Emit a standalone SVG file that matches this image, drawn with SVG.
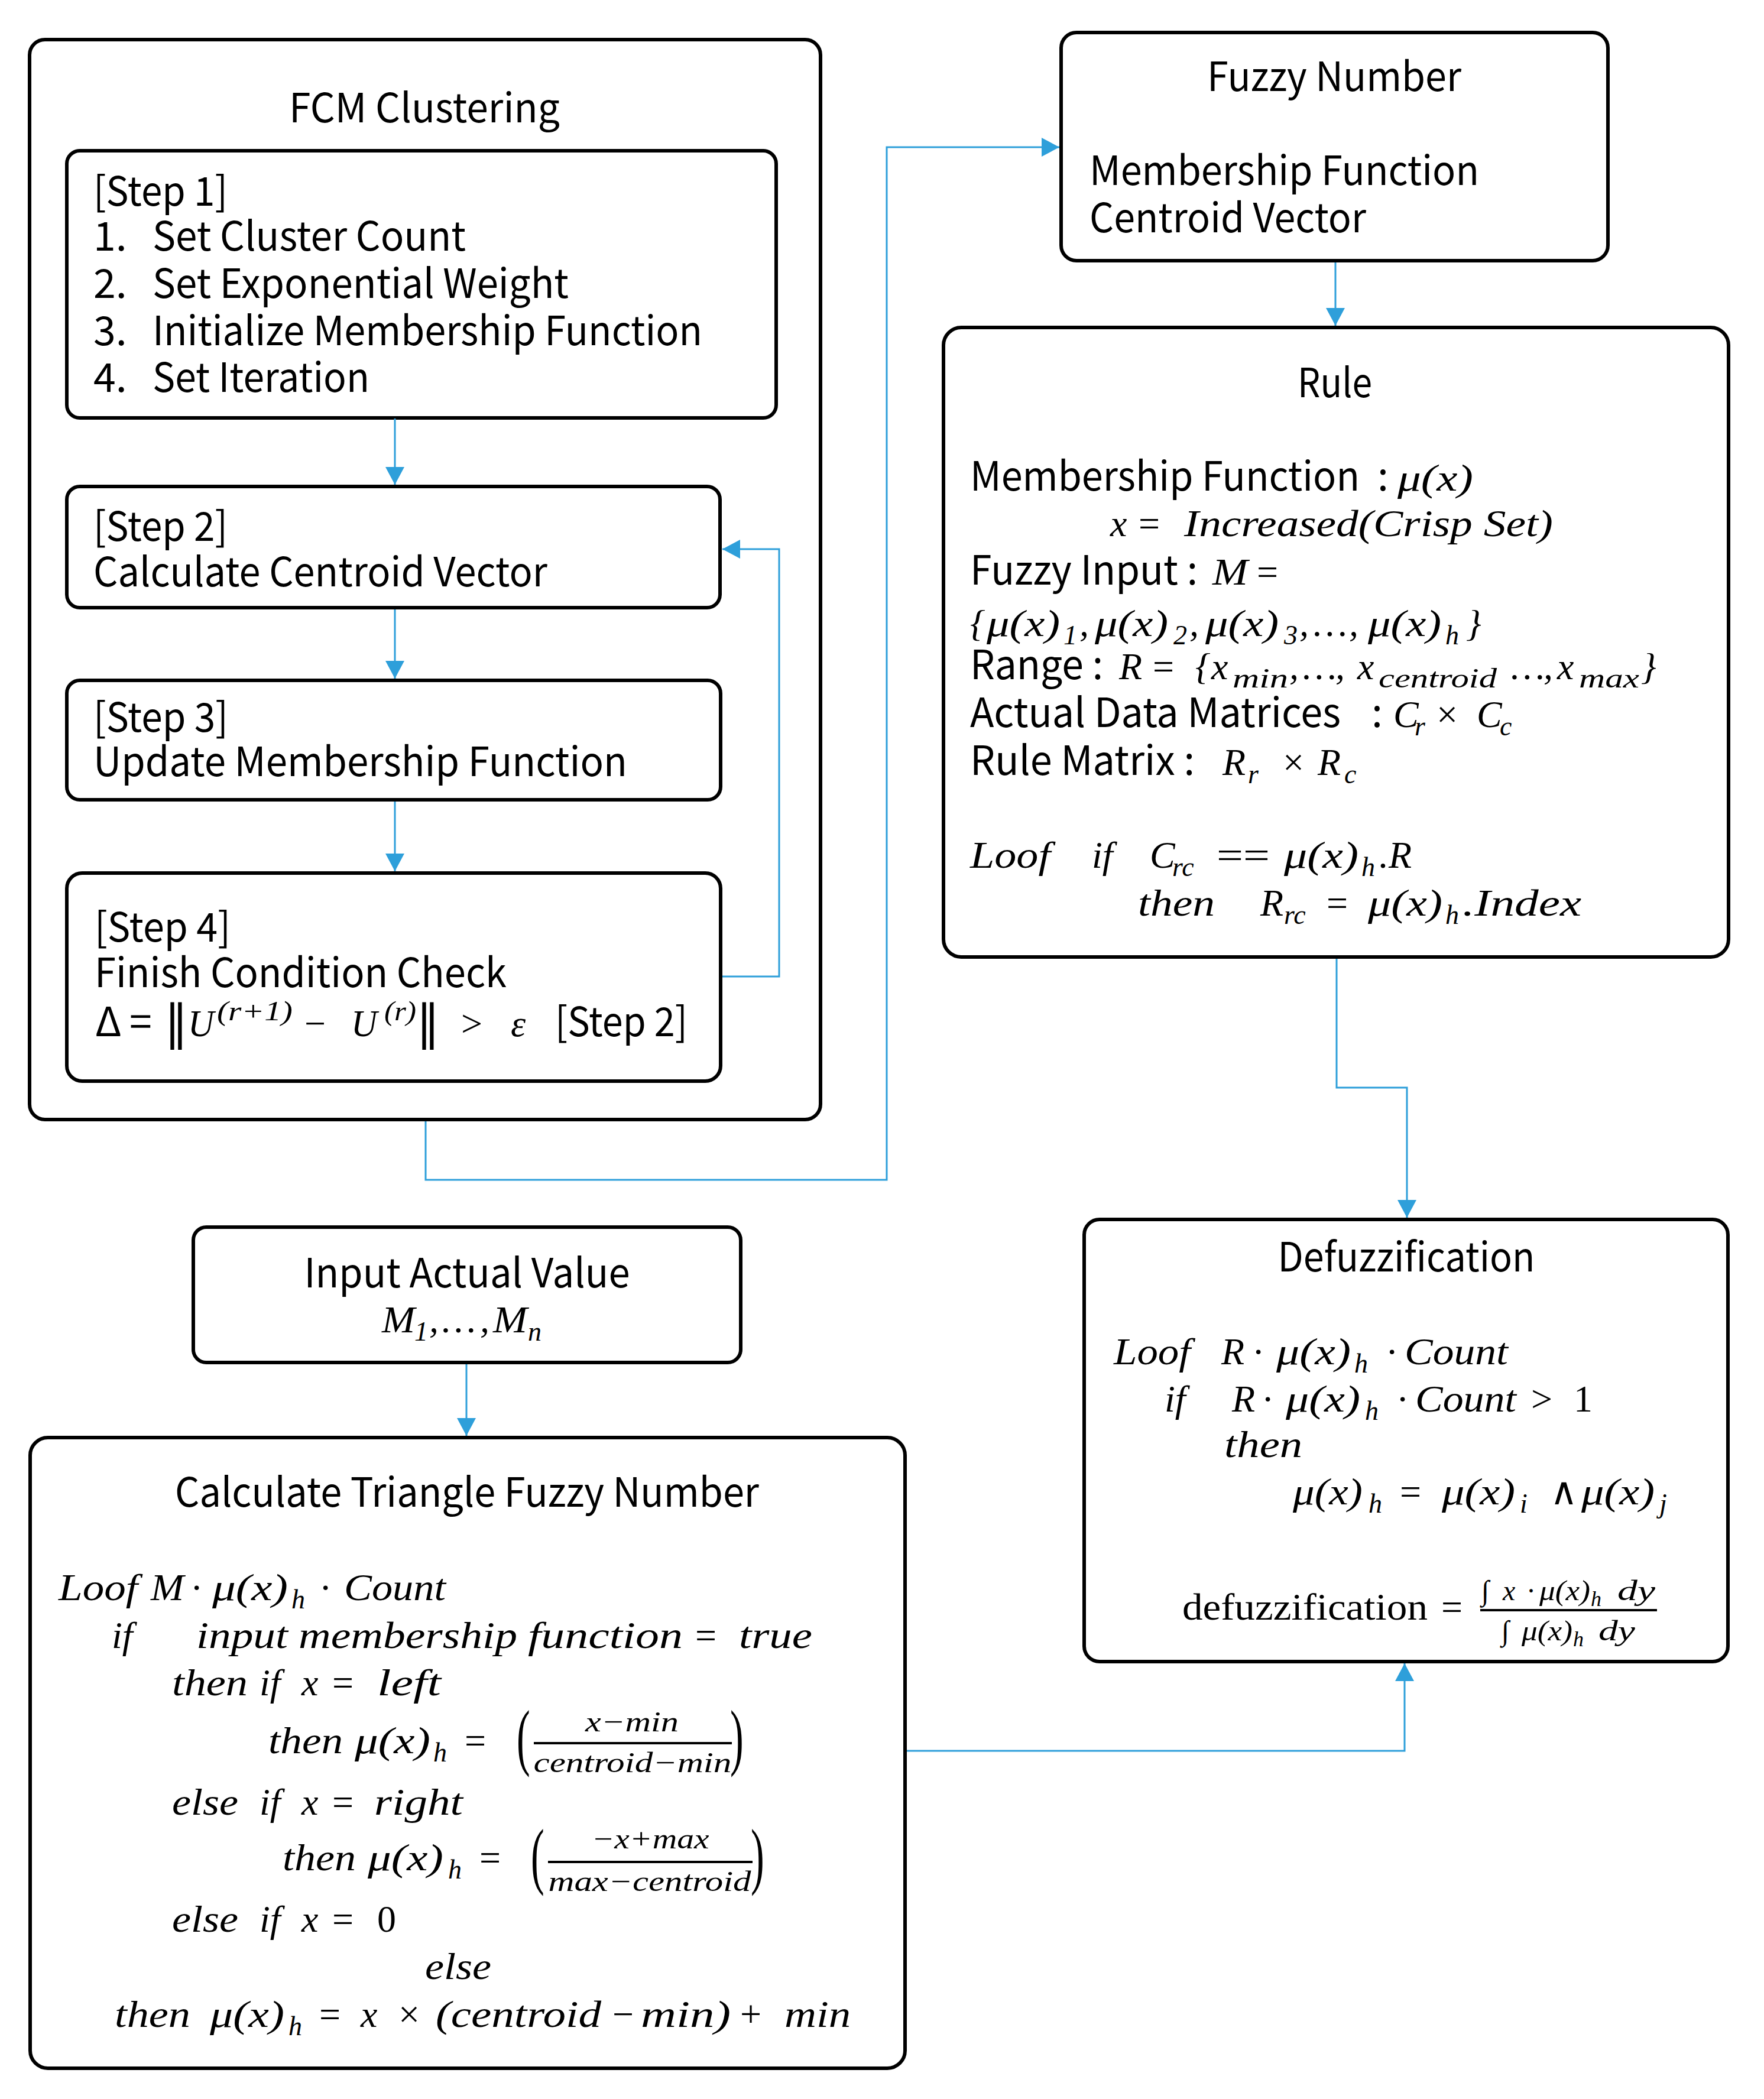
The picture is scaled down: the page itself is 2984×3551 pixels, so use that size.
<svg xmlns="http://www.w3.org/2000/svg" width="2984" height="3551" viewBox="0 0 2984 3551">
<defs>
<style>
.b{fill:#fff;stroke:#000;stroke-width:6}
.s{font-family:"Noto Sans CJK KR","Noto Sans",sans-serif;font-size:68px;fill:#000}
.m{font-family:"Liberation Serif","DejaVu Serif",serif;font-style:italic;font-size:64px;fill:#000}
.u{font-style:normal}
.sb{font-size:46px}
.f{font-size:48px}
.fs{font-size:36px}
.c{fill:none;stroke:#2E9FDA;stroke-width:3}
.bar{stroke:#000;stroke-width:4}
.par{font-family:"Liberation Serif",serif;font-style:normal;font-size:124px;fill:#000}
.nb{font-family:"DejaVu Serif",serif;font-style:normal;font-size:80px;fill:#000}
</style>
<marker id="ah" markerUnits="userSpaceOnUse" markerWidth="32" markerHeight="32" viewBox="0 0 30 32" refX="30" refY="16" orient="auto"><path d="M0,0 L30,16 L0,32 z" fill="#2E9FDA"/></marker>
</defs>
<rect x="0" y="0" width="2984" height="3551" fill="#fff"/>

<g id="fcm-clustering">
<rect class="b" x="50" y="67" width="1338" height="1827" rx="26"/>
<text class="s" x="718" y="207" text-anchor="middle" textLength="458" lengthAdjust="spacingAndGlyphs">FCM Clustering</text>
</g>

<g id="step1">
<rect class="b" x="113" y="255" width="1200" height="452" rx="22"/>
<text class="s" x="158" y="348" textLength="227" lengthAdjust="spacingAndGlyphs">[Step 1]</text>
<text class="s" x="158" y="424">1.</text><text class="s" x="258" y="424" textLength="530" lengthAdjust="spacingAndGlyphs">Set Cluster Count</text>
<text class="s" x="158" y="504">2.</text><text class="s" x="258" y="504" textLength="704" lengthAdjust="spacingAndGlyphs">Set Exponential Weight</text>
<text class="s" x="158" y="584">3.</text><text class="s" x="258" y="584" textLength="930" lengthAdjust="spacingAndGlyphs">Initialize Membership Function</text>
<text class="s" x="158" y="663">4.</text><text class="s" x="258" y="663" textLength="367" lengthAdjust="spacingAndGlyphs">Set Iteration</text>
</g>

<g id="step2">
<rect class="b" x="113" y="823" width="1105" height="205" rx="22"/>
<text class="s" x="158" y="915" textLength="227" lengthAdjust="spacingAndGlyphs">[Step 2]</text>
<text class="s" x="158" y="992" textLength="768" lengthAdjust="spacingAndGlyphs">Calculate Centroid Vector</text>
</g>

<g id="step3">
<rect class="b" x="113" y="1151" width="1106" height="202" rx="22"/>
<text class="s" x="158" y="1238" textLength="228" lengthAdjust="spacingAndGlyphs">[Step 3]</text>
<text class="s" x="158" y="1313" textLength="903" lengthAdjust="spacingAndGlyphs">Update Membership Function</text>
</g>

<g id="step4">
<rect class="b" x="113" y="1477" width="1106" height="352" rx="26"/>
<text class="s" x="160" y="1593" textLength="230" lengthAdjust="spacingAndGlyphs">[Step 4]</text>
<text class="s" x="160" y="1670" textLength="697" lengthAdjust="spacingAndGlyphs">Finish Condition Check</text>
<text class="s" x="161" y="1753">Δ</text>
<text class="s" x="219" y="1753">=</text>
<text class="nb" x="278" y="1757">‖</text>
<text class="m" x="318" y="1753" textLength="44" lengthAdjust="spacingAndGlyphs">U</text>
<text class="m sb" x="367" y="1726" textLength="128" lengthAdjust="spacingAndGlyphs">(r+1)</text>
<text class="m u" x="515" y="1753">−</text>
<text class="m" x="594" y="1753" textLength="44" lengthAdjust="spacingAndGlyphs">U</text>
<text class="m sb" x="650" y="1726" textLength="54" lengthAdjust="spacingAndGlyphs">(r)</text>
<text class="nb" x="704" y="1757">‖</text>
<text class="m u" x="780" y="1753">&gt;</text>
<text class="m" x="864" y="1753">ε</text>
<text class="s" x="939" y="1753" textLength="224" lengthAdjust="spacingAndGlyphs">[Step 2]</text>
</g>

<g id="fuzzy-number">
<rect class="b" x="1795" y="55" width="925" height="386" rx="26"/>
<text class="s" x="2257" y="154" text-anchor="middle" textLength="430" lengthAdjust="spacingAndGlyphs">Fuzzy Number</text>
<text class="s" x="1843" y="313" textLength="659" lengthAdjust="spacingAndGlyphs">Membership Function</text>
<text class="s" x="1843" y="393" textLength="468" lengthAdjust="spacingAndGlyphs">Centroid Vector</text>
</g>

<g id="rule">
<rect class="b" x="1596" y="554" width="1328" height="1065" rx="30"/>
<text class="s" x="2258" y="672" text-anchor="middle" textLength="126" lengthAdjust="spacingAndGlyphs">Rule</text>
<text class="s" x="1641" y="830" textLength="659" lengthAdjust="spacingAndGlyphs">Membership Function</text>
<text class="s" x="2330" y="830">:</text>
<text class="m" x="2364" y="830" textLength="128" lengthAdjust="spacingAndGlyphs">μ(x)</text>
<text class="m" x="1878" y="907">x</text>
<text class="m u" x="1926" y="907">=</text>
<text class="m" x="2003" y="907" textLength="624" lengthAdjust="spacingAndGlyphs">Increased(Crisp Set)</text>
<text class="s" x="1641" y="989" textLength="385" lengthAdjust="spacingAndGlyphs">Fuzzy Input :</text>
<text class="m" x="2051" y="989" textLength="60" lengthAdjust="spacingAndGlyphs">M</text>
<text class="m u" x="2126" y="989">=</text>
<text class="m" y="1076"><tspan x="1641">{</tspan><tspan x="1669" textLength="124" lengthAdjust="spacingAndGlyphs">μ(x)</tspan><tspan class="sb" x="1799" y="1090">1</tspan><tspan x="1826" y="1076">,</tspan><tspan x="1852" textLength="124" lengthAdjust="spacingAndGlyphs">μ(x)</tspan><tspan class="sb" x="1985" y="1090">2</tspan><tspan x="2012" y="1076">,</tspan><tspan x="2039" textLength="124" lengthAdjust="spacingAndGlyphs">μ(x)</tspan><tspan class="sb" x="2172" y="1090">3</tspan><tspan x="2198" y="1076">,</tspan><tspan x="2222">…</tspan><tspan x="2282">,</tspan><tspan x="2314" textLength="124" lengthAdjust="spacingAndGlyphs">μ(x)</tspan><tspan class="sb" x="2445" y="1090">h</tspan><tspan x="2480" y="1076">}</tspan></text>
<text class="s" x="1641" y="1149" textLength="225" lengthAdjust="spacingAndGlyphs">Range :</text>
<text class="m" y="1149"><tspan x="1893">R</tspan><tspan class="u" x="1950">=</tspan><tspan x="2022">{</tspan><tspan x="2049">x</tspan><tspan class="sb" x="2085" y="1163" textLength="94" lengthAdjust="spacingAndGlyphs">min</tspan><tspan x="2181" y="1149">,</tspan><tspan x="2204">…</tspan><tspan x="2259">,</tspan><tspan x="2296">x</tspan><tspan class="sb" x="2332" y="1163" textLength="200" lengthAdjust="spacingAndGlyphs">centroid</tspan><tspan x="2556" y="1149">…</tspan><tspan x="2611">,</tspan><tspan x="2634">x</tspan><tspan class="sb" x="2671" y="1163" textLength="102" lengthAdjust="spacingAndGlyphs">max</tspan><tspan x="2776" y="1149">}</tspan></text>
<text class="s" x="1641" y="1230" textLength="627" lengthAdjust="spacingAndGlyphs">Actual Data Matrices</text>
<text class="s" x="2320" y="1230">:</text>
<text class="m" y="1230"><tspan x="2357">C</tspan><tspan class="sb" x="2393" y="1244">r</tspan><tspan class="u" x="2430" y="1230">×</tspan><tspan x="2498">C</tspan><tspan class="sb" x="2537" y="1244">c</tspan></text>
<text class="s" x="1641" y="1311" textLength="380" lengthAdjust="spacingAndGlyphs">Rule Matrix :</text>
<text class="m" y="1311"><tspan x="2068">R</tspan><tspan class="sb" x="2111" y="1325">r</tspan><tspan class="u" x="2170" y="1311">×</tspan><tspan x="2229">R</tspan><tspan class="sb" x="2274" y="1325">c</tspan></text>
<text class="m" y="1468"><tspan x="1641" textLength="136" lengthAdjust="spacingAndGlyphs">Loof</tspan><tspan x="1847">if</tspan><tspan x="1945">C</tspan><tspan class="sb" x="1983" y="1482">rc</tspan><tspan class="u" x="2058" y="1468" textLength="90" lengthAdjust="spacingAndGlyphs">==</tspan><tspan x="2172" textLength="126" lengthAdjust="spacingAndGlyphs">μ(x)</tspan><tspan class="sb" x="2303" y="1482">h</tspan><tspan x="2333" y="1468">.R</tspan></text>
<text class="m" y="1549"><tspan x="1925" textLength="130" lengthAdjust="spacingAndGlyphs">then</tspan><tspan x="2132">R</tspan><tspan class="sb" x="2172" y="1563">rc</tspan><tspan class="u" x="2244" y="1549">=</tspan><tspan x="2314" textLength="126" lengthAdjust="spacingAndGlyphs">μ(x)</tspan><tspan class="sb" x="2445" y="1563">h</tspan><tspan x="2474" y="1549" textLength="201" lengthAdjust="spacingAndGlyphs">.Index</tspan></text>
</g>

<g id="defuzzification">
<rect class="b" x="1834" y="2063" width="1089" height="748" rx="26"/>
<text class="s" x="2379" y="2151" text-anchor="middle" textLength="435" lengthAdjust="spacingAndGlyphs">Defuzzification</text>
<text class="m" y="2308"><tspan x="1884" textLength="130" lengthAdjust="spacingAndGlyphs">Loof</tspan><tspan x="2066">R</tspan><tspan class="u" x="2118">·</tspan><tspan x="2159" textLength="126" lengthAdjust="spacingAndGlyphs">μ(x)</tspan><tspan class="sb" x="2291" y="2322">h</tspan><tspan class="u" x="2344" y="2308">·</tspan><tspan x="2376" textLength="175" lengthAdjust="spacingAndGlyphs">Count</tspan></text>
<text class="m" y="2388"><tspan x="1970">if</tspan><tspan x="2084">R</tspan><tspan class="u" x="2134">·</tspan><tspan x="2175" textLength="126" lengthAdjust="spacingAndGlyphs">μ(x)</tspan><tspan class="sb" x="2309" y="2402">h</tspan><tspan class="u" x="2362" y="2388">·</tspan><tspan x="2394" textLength="171" lengthAdjust="spacingAndGlyphs">Count</tspan><tspan class="u" x="2590">&gt;</tspan><tspan class="u" x="2662">1</tspan></text>
<text class="m" x="2071" y="2465" textLength="132" lengthAdjust="spacingAndGlyphs">then</text>
<text class="m" y="2545"><tspan x="2187" textLength="118" lengthAdjust="spacingAndGlyphs">μ(x)</tspan><tspan class="sb" x="2315" y="2559">h</tspan><tspan class="u" x="2368" y="2545">=</tspan><tspan x="2439" textLength="124" lengthAdjust="spacingAndGlyphs">μ(x)</tspan><tspan class="sb" x="2571" y="2559">i</tspan><tspan class="u" x="2622" y="2545">∧</tspan><tspan x="2675" textLength="124" lengthAdjust="spacingAndGlyphs">μ(x)</tspan><tspan class="sb" x="2807" y="2559">j</tspan></text>
<text class="m u" x="2000" y="2740" textLength="415" lengthAdjust="spacingAndGlyphs">defuzzification</text>
<text class="m u" x="2438" y="2740">=</text>
<text class="m f" y="2707"><tspan class="u" x="2506">∫</tspan><tspan x="2542">x</tspan><tspan class="u" x="2582">·</tspan><tspan x="2604" textLength="86" lengthAdjust="spacingAndGlyphs">μ(x)</tspan><tspan class="fs" x="2691" y="2717">h</tspan><tspan x="2736" y="2707" textLength="64" lengthAdjust="spacingAndGlyphs">dy</tspan></text>
<line class="bar" x1="2504" y1="2724" x2="2803" y2="2724"/>
<text class="m f" y="2775"><tspan class="u" x="2540">∫</tspan><tspan x="2574" textLength="86" lengthAdjust="spacingAndGlyphs">μ(x)</tspan><tspan class="fs" x="2661" y="2785">h</tspan><tspan x="2704" y="2775" textLength="62" lengthAdjust="spacingAndGlyphs">dy</tspan></text>
</g>

<g id="input-actual-value">
<rect class="b" x="327" y="2076" width="926" height="229" rx="22"/>
<text class="s" x="790" y="2178" text-anchor="middle" textLength="551" lengthAdjust="spacingAndGlyphs">Input Actual Value</text>
<text class="m" y="2254"><tspan x="646" textLength="56" lengthAdjust="spacingAndGlyphs">M</tspan><tspan class="sb" x="701" y="2268">1</tspan><tspan x="726" y="2254">,</tspan><tspan x="748">…</tspan><tspan x="812">,</tspan><tspan x="834" textLength="58" lengthAdjust="spacingAndGlyphs">M</tspan><tspan class="sb" x="893" y="2268">n</tspan></text>
</g>

<g id="triangle-fuzzy-number">
<rect class="b" x="51" y="2432" width="1480" height="1067" rx="30"/>
<text class="s" x="790" y="2549" text-anchor="middle" textLength="988" lengthAdjust="spacingAndGlyphs">Calculate Triangle Fuzzy Number</text>
<text class="m" y="2707"><tspan x="99" textLength="134" lengthAdjust="spacingAndGlyphs">Loof</tspan><tspan x="255" textLength="56" lengthAdjust="spacingAndGlyphs">M</tspan><tspan class="u" x="322">·</tspan><tspan x="359" textLength="128" lengthAdjust="spacingAndGlyphs">μ(x)</tspan><tspan class="sb" x="493" y="2721">h</tspan><tspan class="u" x="540" y="2707">·</tspan><tspan x="582" textLength="172" lengthAdjust="spacingAndGlyphs">Count</tspan></text>
<text class="m" y="2788"><tspan x="189">if</tspan><tspan x="332" textLength="155" lengthAdjust="spacingAndGlyphs">input</tspan><tspan x="505" textLength="370" lengthAdjust="spacingAndGlyphs">membership</tspan><tspan x="893" textLength="262" lengthAdjust="spacingAndGlyphs">function</tspan><tspan class="u" x="1176">=</tspan><tspan x="1250" textLength="124" lengthAdjust="spacingAndGlyphs">true</tspan></text>
<text class="m" y="2868"><tspan x="291" textLength="128" lengthAdjust="spacingAndGlyphs">then</tspan><tspan x="439">if</tspan><tspan x="510">x</tspan><tspan class="u" x="562">=</tspan><tspan x="638" textLength="108" lengthAdjust="spacingAndGlyphs">left</tspan></text>
<text class="m" y="2966"><tspan x="454" textLength="126" lengthAdjust="spacingAndGlyphs">then</tspan><tspan x="600" textLength="128" lengthAdjust="spacingAndGlyphs">μ(x)</tspan><tspan class="sb" x="733" y="2980">h</tspan><tspan class="u" x="786" y="2966">=</tspan></text>
<text class="par" transform="translate(874,2980) scale(0.55,1)">(</text>
<text class="m f" x="1069" y="2929" text-anchor="middle" textLength="158" lengthAdjust="spacingAndGlyphs">x−min</text>
<line class="bar" x1="903" y1="2949" x2="1238" y2="2949"/>
<text class="m f" x="1070" y="2998" text-anchor="middle" textLength="335" lengthAdjust="spacingAndGlyphs">centroid−min</text>
<text class="par" transform="translate(1235,2980) scale(0.55,1)">)</text>
<text class="m" y="3070"><tspan x="291" textLength="112" lengthAdjust="spacingAndGlyphs">else</tspan><tspan x="439">if</tspan><tspan x="510">x</tspan><tspan class="u" x="562">=</tspan><tspan x="633" textLength="150" lengthAdjust="spacingAndGlyphs">right</tspan></text>
<text class="m" y="3164"><tspan x="478" textLength="124" lengthAdjust="spacingAndGlyphs">then</tspan><tspan x="622" textLength="128" lengthAdjust="spacingAndGlyphs">μ(x)</tspan><tspan class="sb" x="758" y="3178">h</tspan><tspan class="u" x="811" y="3164">=</tspan></text>
<text class="par" transform="translate(898,3181) scale(0.55,1)">(</text>
<text class="m f" x="1100" y="3127" text-anchor="middle" textLength="199" lengthAdjust="spacingAndGlyphs">−x+max</text>
<line class="bar" x1="927" y1="3150" x2="1273" y2="3150"/>
<text class="m f" x="1099" y="3199" text-anchor="middle" textLength="343" lengthAdjust="spacingAndGlyphs">max−centroid</text>
<text class="par" transform="translate(1270,3181) scale(0.55,1)">)</text>
<text class="m" y="3268"><tspan x="291" textLength="112" lengthAdjust="spacingAndGlyphs">else</tspan><tspan x="439">if</tspan><tspan x="510">x</tspan><tspan class="u" x="562">=</tspan><tspan class="u" x="638">0</tspan></text>
<text class="m" x="719" y="3348" textLength="112" lengthAdjust="spacingAndGlyphs">else</text>
<text class="m" y="3429"><tspan x="194" textLength="128" lengthAdjust="spacingAndGlyphs">then</tspan><tspan x="355" textLength="126" lengthAdjust="spacingAndGlyphs">μ(x)</tspan><tspan class="sb" x="488" y="3443">h</tspan><tspan class="u" x="540" y="3429">=</tspan><tspan x="610">x</tspan><tspan class="u" x="674">×</tspan><tspan x="737" textLength="280" lengthAdjust="spacingAndGlyphs">(centroid</tspan><tspan class="u" x="1036">−</tspan><tspan x="1084" textLength="152" lengthAdjust="spacingAndGlyphs">min)</tspan><tspan class="u" x="1252">+</tspan><tspan x="1327" textLength="112" lengthAdjust="spacingAndGlyphs">min</tspan></text>
</g>

<g id="connectors">
<path class="c" d="M668,708 V820" marker-end="url(#ah)"/>
<path class="c" d="M668,1031 V1148" marker-end="url(#ah)"/>
<path class="c" d="M668,1356 V1474" marker-end="url(#ah)"/>
<path class="c" d="M1222,1652 H1318 V929 H1222" marker-end="url(#ah)"/>
<path class="c" d="M720,1897 V1996 H1500 V249 H1792" marker-end="url(#ah)"/>
<path class="c" d="M2259,444 V551" marker-end="url(#ah)"/>
<path class="c" d="M2261,1622 V1840 H2380 V2060" marker-end="url(#ah)"/>
<path class="c" d="M789,2308 V2429" marker-end="url(#ah)"/>
<path class="c" d="M1534,2962 H2376 V2814" marker-end="url(#ah)"/>
</g>
</svg>
